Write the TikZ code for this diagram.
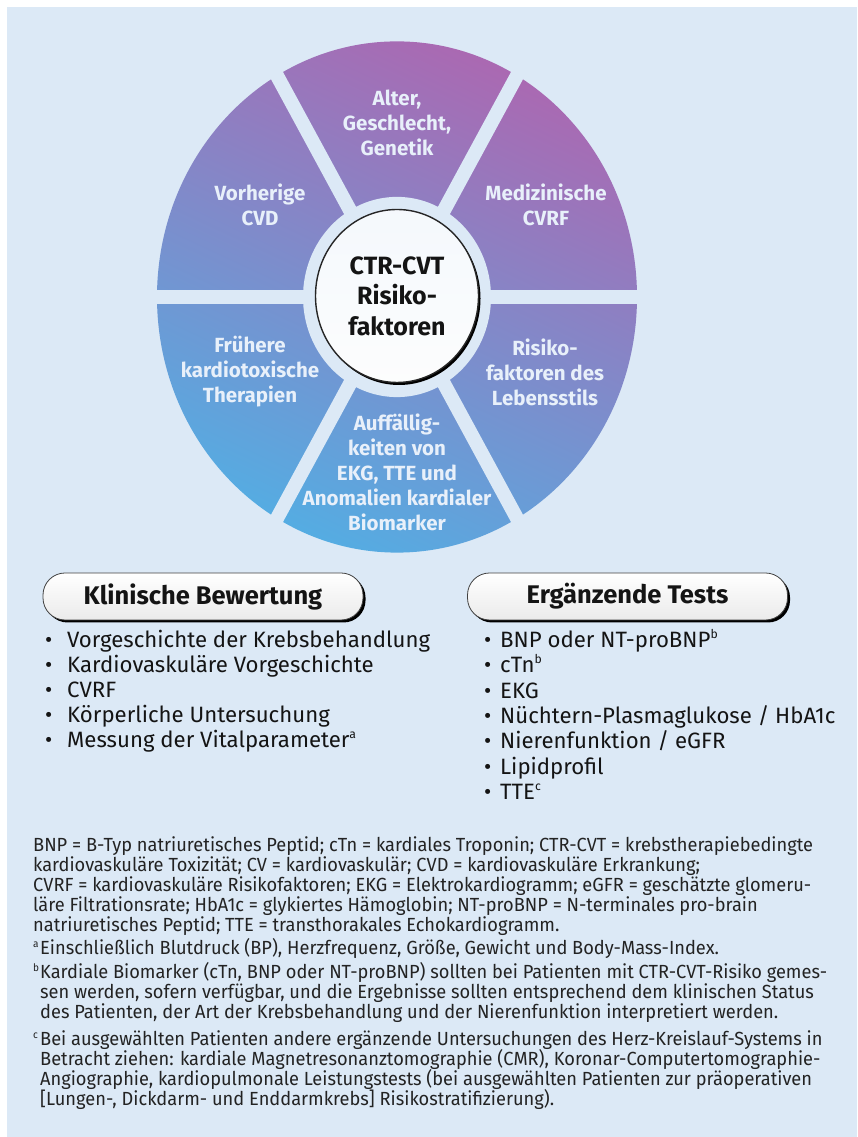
\documentclass[tikz,border=0pt]{standalone}
\usepackage{fontspec}
\setmainfont{Fira Sans}
\newfontfamily\fnfont[FakeStretch=0.96]{Fira Sans}
\usetikzlibrary{shapes.geometric,shadows}
\definecolor{bg}{RGB}{220,233,246}
\definecolor{wtop}{RGB}{170,105,178}
\definecolor{wbot}{RGB}{85,172,226}
\definecolor{wtext}{RGB}{232,240,250}
\definecolor{ink}{RGB}{20,20,20}
\definecolor{fnink}{RGB}{35,35,35}
\newcommand\sups[1]{\raisebox{0.42em}{\scalebox{0.55}{#1}}}
\tikzset{
  wlabel/.style={text=wtext, font=\bfseries\fontsize{20.5}{25}\selectfont, align=center, inner sep=0},
  pill/.style={rounded corners=22, minimum width=320, minimum height=47, inner sep=0,
     top color=white, bottom color=black!8, draw=black!75, line width=0.8,
     drop shadow={shadow xshift=2.5pt, shadow yshift=-2.5pt, opacity=1, fill=black},
     font=\bfseries\fontsize{25.5}{28}\selectfont, text=ink},
  item/.style={anchor=base west, inner sep=0, font=\fontsize{22.2}{25}\selectfont, text=ink},
  fn/.style={anchor=base west, inner sep=0, font=\fnfont\fontsize{19}{20}\selectfont, text=fnink}
}
\begin{document}
\begin{tikzpicture}[x=1pt,y=1pt]
\useasboundingbox (0,0) rectangle (857,1137);
\fill[white] (0,0) rectangle (857,1137);
\fill[bg] (7,0) rectangle (857,1130);

% wheel
\begin{scope}[shift={(397,840)}, yscale=1.065]
  \shade[top color=wtop, bottom color=wbot, shading angle=-25] (0,0) circle [radius=240];
  \foreach \a in {0,60,120} \draw[bg, line width=14] (\a:252) -- (\a+180:252);
  \fill[bg] (0,0) circle [radius=94];
\end{scope}

\node[ellipse, minimum width=163, minimum height=173, inner sep=0,
      top color=white!70!bg, bottom color=bg!90!black!5, draw=black!85, line width=1.4,
      drop shadow={shadow xshift=2pt, shadow yshift=-2.5pt, opacity=1, fill=black},
      font=\bfseries\fontsize{25}{30.5}\selectfont, align=center, text=ink]
      (ctr) at (397,841) {CTR-CVT\\Risiko-\\faktoren};

\node[wlabel] (w1) at (397,1014) {Alter,\\Geschlecht,\\Genetik};
\node[wlabel] (w2) at (546,932) {Medizinische\\CVRF};
\node[wlabel] (w3) at (545,765) {Risiko-\\faktoren des\\Lebensstils};
\node[wlabel] (w4) at (397,665) {Auff\"allig-\\keiten von\\EKG, TTE und\\Anomalien kardialer\\Biomarker};
\node[wlabel] (w5) at (250,765) {Fr\"uhere\\kardiotoxische\\Therapien};
\node[wlabel] (w6) at (260,932) {Vorherige\\CVD};

% boxes
\node[pill] (kb) at (203,540.5) {Klinische Bewertung};
\node[pill] (et) at (627.5,540.5) {Erg\"anzende Tests};

% left list
\node[item] (l1) at (45,489) {\makebox[22pt][l]{\textbullet}Vorgeschichte der Krebsbehandlung};
\node[item] (l2) at (45,464) {\makebox[22pt][l]{\textbullet}Kardiovaskul\"are Vorgeschichte};
\node[item] (l3) at (45,439) {\makebox[22pt][l]{\textbullet}CVRF};
\node[item] (l4) at (45,414) {\makebox[22pt][l]{\textbullet}K\"orperliche Untersuchung};
\node[item] (l5) at (45,389) {\makebox[22pt][l]{\textbullet}Messung der Vitalparameter\sups{a}};

% right list
\node[item] (r1) at (484,489) {\makebox[16pt][l]{\textbullet}BNP oder NT-proBNP\sups{b}};
\node[item] (r2) at (484,464) {\makebox[16pt][l]{\textbullet}cTn\sups{b}};
\node[item] (r3) at (484,438.5) {\makebox[16pt][l]{\textbullet}EKG};
\node[item] (r4) at (484,413) {\makebox[16pt][l]{\textbullet}N\"uchtern-Plasmaglukose / HbA1c};
\node[item] (r5) at (484,388) {\makebox[16pt][l]{\textbullet}Nierenfunktion / eGFR};
\node[item] (r6) at (484,362.5) {\makebox[16pt][l]{\textbullet}Lipidprofil};
\node[item] (r7) at (484,337) {\makebox[16pt][l]{\textbullet}TTE\sups{c}};

% footnotes
\node[fn] (f1) at (33,285) {BNP = B-Typ natriuretisches Peptid; cTn = kardiales Troponin; CTR-CVT = krebstherapiebedingte};
\node[fn] (f2) at (33,265) {kardiovaskul\"are Toxizit\"at; CV = kardiovaskul\"ar; CVD = kardiovaskul\"are Erkrankung;};
\node[fn] (f3) at (33,245) {CVRF = kardiovaskul\"are Risikofaktoren; EKG = Elektrokardiogramm; eGFR = gesch\"atzte glomeru-};
\node[fn] (f4) at (33,225) {l\"are Filtrationsrate; HbA1c = glykiertes H\"amoglobin; NT-proBNP = N-terminales pro-brain};
\node[fn] (f5) at (33,205) {natriuretisches Peptid; TTE = transthorakales Echokardiogramm.};
\node[fn] (fa) at (33,182) {\makebox[7pt][l]{\sups{a}}Einschlie\ss lich Blutdruck (BP), Herzfrequenz, Gr\"o\ss e, Gewicht und Body-Mass-Index.};
\node[fn] (fb1) at (33,158) {\makebox[7pt][l]{\sups{b}}Kardiale Biomarker (cTn, BNP oder NT-proBNP) sollten bei Patienten mit CTR-CVT-Risiko gemes-};
\node[fn] (fb2) at (40,138) {sen werden, sofern verf\"ugbar, und die Ergebnisse sollten entsprechend dem klinischen Status};
\node[fn] (fb3) at (40,118) {des Patienten, der Art der Krebsbehandlung und der Nierenfunktion interpretiert werden.};
\node[fn] (fc1) at (33,91) {\makebox[7pt][l]{\sups{c}}Bei ausgew\"ahlten Patienten andere erg\"anzende Untersuchungen des Herz-Kreislauf-Systems in};
\node[fn] (fc2) at (40,71) {Betracht ziehen: kardiale Magnetresonanztomographie (CMR), Koronar-Computertomographie-};
\node[fn] (fc3) at (40,51) {Angiographie, kardiopulmonale Leistungstests (bei ausgew\"ahlten Patienten zur pr\"aoperativen};
\node[fn] (fc4) at (40,31) {[Lungen-, Dickdarm- und Enddarmkrebs] Risikostratifizierung).};
\end{tikzpicture}
\end{document}
